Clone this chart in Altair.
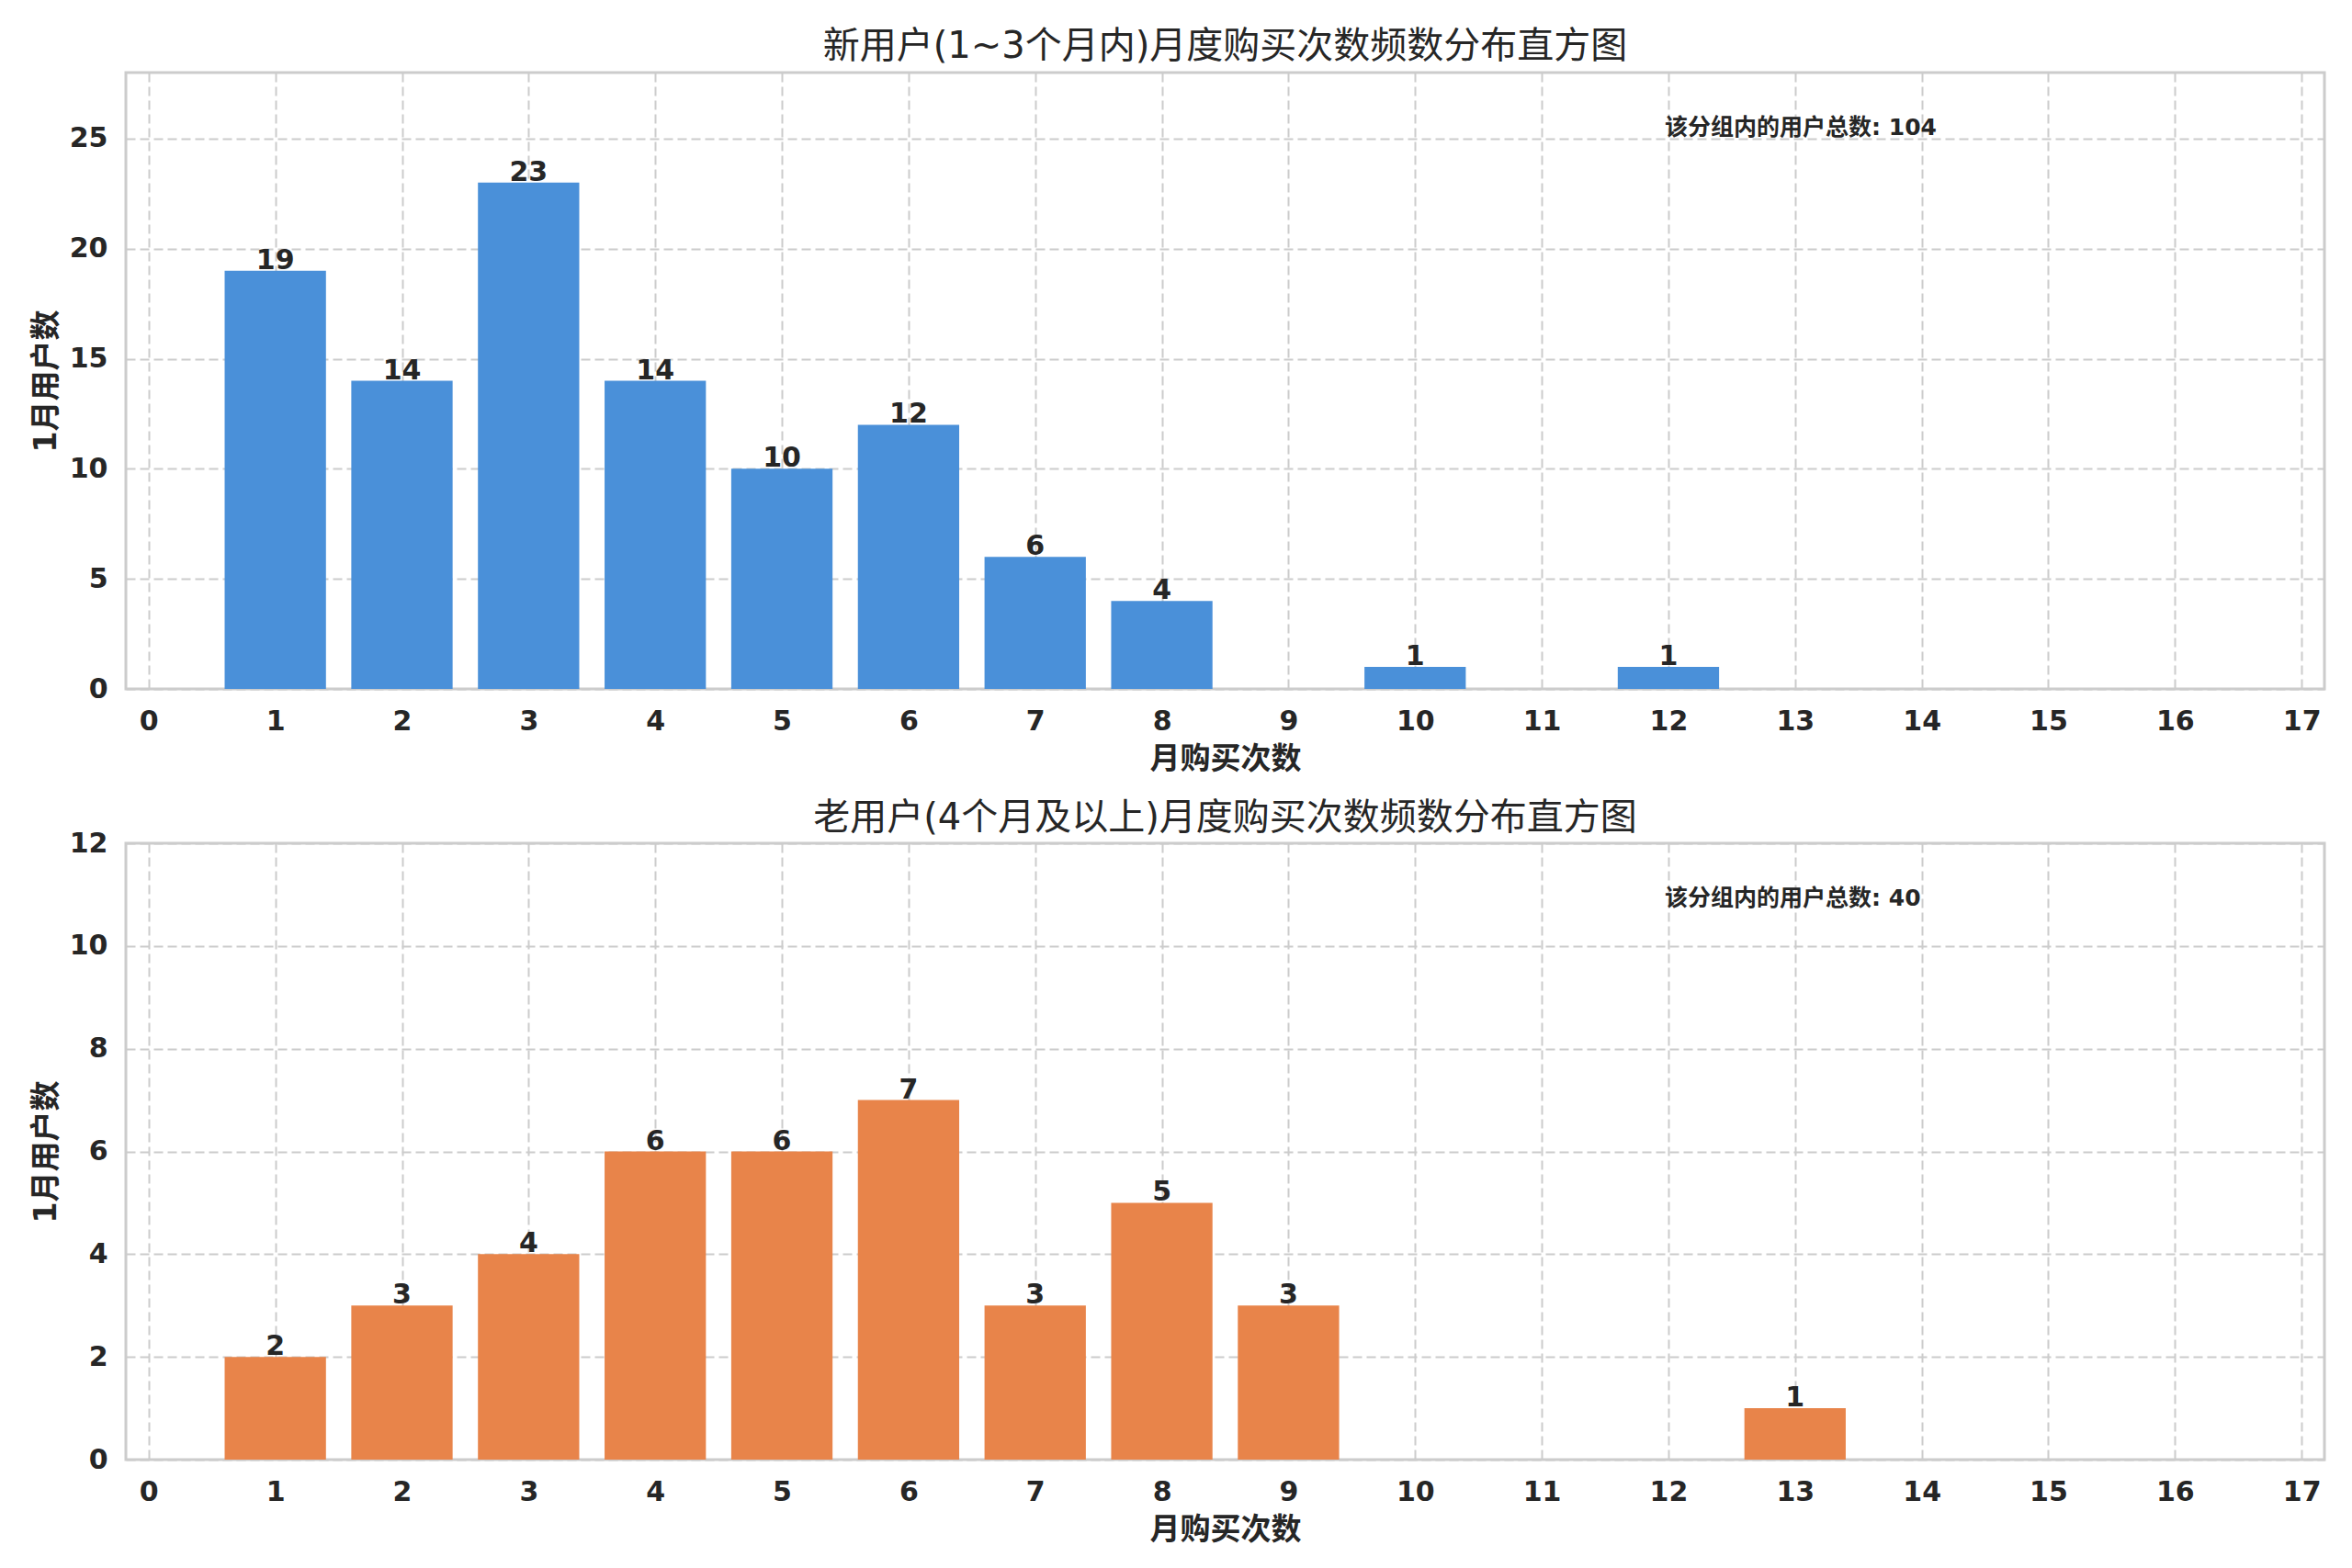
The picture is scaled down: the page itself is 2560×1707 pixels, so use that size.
import altair as alt
import pandas as pd

# ---- data ----
top_x = [1, 2, 3, 4, 5, 6, 7, 8, 10, 12]
top_counts = [19, 14, 23, 14, 10, 12, 6, 4, 1, 1]
bot_x = [1, 2, 3, 4, 5, 6, 7, 8, 9, 13]
bot_counts = [2, 3, 4, 6, 6, 7, 3, 5, 3, 1]
x_ticks = list(range(0, 18))
top_y_ticks = [0, 5, 10, 15, 20, 25]
bot_y_ticks = [0, 2, 4, 6, 8, 10, 12]
titles = [
    "新用户(1~3个月内)月度购买次数频数分布直方图",
    "老用户(4个月及以上)月度购买次数频数分布直方图",
]
x_label = "月购买次数"
y_label = "1月用户数"
note_prefix = "该分组内的用户总数"
colors = ["#4a90d9", "#e8844a"]

FONT = "DejaVu Sans, Noto Sans CJK SC, sans-serif"
W, H = 2393, 671
TXT = "#262626"


def panel(xs, counts, color, title, y_max, y_ticks, title_offset):
    df = pd.DataFrame({"x": xs, "count": counts})
    base = alt.Chart(df).transform_calculate(x0="datum.x - 0.4", x1="datum.x + 0.4")
    xscale = alt.Scale(domain=[-0.18, 17.18], nice=False, zero=False)
    xaxis = alt.Axis(values=x_ticks, title=x_label, format="d")
    yscale = alt.Scale(domain=[0, y_max], nice=False)
    yaxis = alt.Axis(values=y_ticks, title=y_label, format="d")
    bars = base.mark_bar(color=color).encode(
        x=alt.X("x0:Q", scale=xscale, axis=xaxis),
        x2="x1:Q",
        y=alt.Y("count:Q", scale=yscale, axis=yaxis),
        y2=alt.datum(0),
    )
    labels = base.mark_text(
        baseline="bottom", align="center", dy=4,
        fontSize=30, fontWeight="bold", font=FONT, color=TXT,
    ).encode(
        x=alt.X("x:Q", scale=xscale, axis=xaxis),
        y=alt.Y("count:Q", scale=yscale, axis=yaxis),
        text="count:Q",
    )
    note_df = pd.DataFrame({"t": [f"{note_prefix}: {sum(counts)}"]})
    note = alt.Chart(note_df).mark_text(
        align="left", baseline="middle", fontSize=25, fontWeight="bold",
        font=FONT, color=TXT,
    ).encode(x=alt.value(0.70 * W), y=alt.value(0.09 * H), text="t:N")
    return alt.layer(bars, labels, note).properties(
        width=W, height=H,
        title=alt.TitleParams(title, fontSize=40, font=FONT, fontWeight="normal",
                              color=TXT, offset=title_offset),
    )


top = panel(top_x, top_counts, colors[0], titles[0], 28, top_y_ticks, 8)
bot = panel(bot_x, bot_counts, colors[1], titles[1], 12, bot_y_ticks, -8)

chart = alt.vconcat(top, bot, spacing=24).properties(
    padding={"left": 24, "top": 21, "right": 5, "bottom": 5},
    background="white",
).configure_view(
    stroke="#cccccc", strokeWidth=3, fill="white",
).configure_axis(
    labelFont=FONT, labelFontSize=30, labelFontWeight="bold", labelColor=TXT,
    titleFont=FONT, titleFontSize=33, titleFontWeight="bold", titleColor=TXT,
    grid=True, gridColor="#cccccc", gridDash=[10, 5], gridWidth=2,
    domain=False, ticks=False, labelPadding=20,
).configure_axisX(
    titlePadding=10,
).configure_axisY(
    titlePadding=8,
)

chart.save("out.html", embed_options={"renderer": "svg", "actions": False})
